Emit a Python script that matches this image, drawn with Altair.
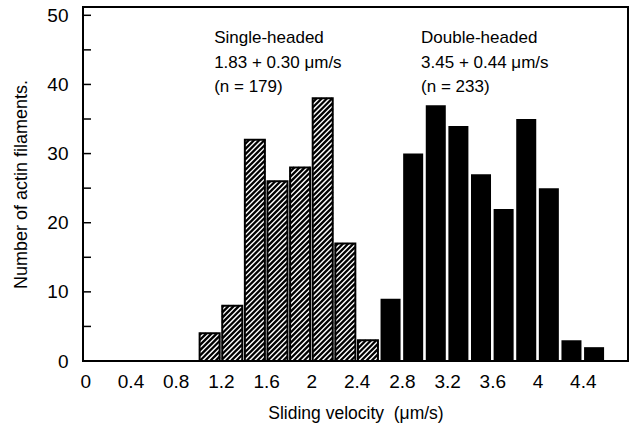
import altair as alt
import pandas as pd
import numpy as np

# ---- data ----
single_bin_start = [1.0, 1.2, 1.4, 1.6, 1.8, 2.0, 2.2, 2.4]
single_counts = [4, 8, 32, 26, 28, 38, 17, 3]
double_bin_start = [2.6, 2.8, 3.0, 3.2, 3.4, 3.6, 3.8, 4.0, 4.2, 4.4]
double_counts = [9, 30, 37, 34, 27, 22, 35, 25, 3, 2]
bin_width = 0.2

x_ticks = [0, 0.4, 0.8, 1.2, 1.6, 2, 2.4, 2.8, 3.2, 3.6, 4, 4.4]
y_ticks = [0, 10, 20, 30, 40, 50]
y_minor = [5, 10, 15, 20, 25, 30, 35, 40, 45, 50]

ann_single = ["Single-headed", "1.83 + 0.30 \u03bcm/s", "(n = 179)"]
ann_double = ["Double-headed", "3.45 + 0.44 \u03bcm/s", "(n = 233)"]

# ---- layout ----
W, H = 545, 354
XMIN, XMAX = -0.02, 4.8
YMIN, YMAX = 0, 51.2
sx = W / (XMAX - XMIN)
sy = H / (YMAX - YMIN)
pad = 1.3 / sx  # bar inset, in data units
FONT = "Liberation Sans"

def bars(starts, counts, group):
    return pd.DataFrame({
        "x0": [s + pad for s in starts],
        "x1": [s + bin_width - pad for s in starts],
        "count": counts,
        "base": [0] * len(counts),
        "group": group,
    })

single_df = bars(single_bin_start, single_counts, "single")
double_df = bars(double_bin_start, double_counts, "double")

# hatch segments (45 degrees in screen space) clipped to each single-headed bar
period = 5.2
segs = []
for _, r in single_df.iterrows():
    a, b, h = r.x0 * sx, r.x1 * sx, r["count"] * sy
    c = np.floor((a - h) / period) * period
    while c <= b:
        y0 = max(0.0, a - c)
        y1 = min(h, b - c)
        if y1 > y0:
            segs.append({"x": (y0 + c) / sx, "y": y0 / sy,
                         "x2": (y1 + c) / sx, "y2": y1 / sy})
        c += period
hatch_df = pd.DataFrame(segs)

ann_df = pd.DataFrame({
    "x": [1.14] * 3 + [2.97] * 3,
    "y": [46.0, 42.4, 38.9] * 2,
    "text": ann_single + ann_double,
})
tick_df = pd.DataFrame({"y": y_minor})

xscale = alt.Scale(domain=[XMIN, XMAX], nice=False, zero=False)
yscale = alt.Scale(domain=[YMIN, YMAX], nice=False)

xaxis = alt.Axis(values=x_ticks, format="~g", grid=False, domain=False,
                 ticks=False, labelPadding=11, labelFontSize=19,
                 labelFont=FONT, labelColor="black",
                 title="Sliding velocity \u00a0(\u03bcm/s)",
                 titleFont=FONT, titleFontSize=17.5, titleFontWeight="normal",
                 titleColor="black", titlePadding=13)
yaxis = alt.Axis(values=y_ticks, grid=False, domain=False, ticks=False,
                 labelPadding=15, labelFontSize=19, labelFont=FONT,
                 labelColor="black", title="Number of actin filaments.",
                 titleFont=FONT, titleFontSize=18, titleFontWeight="normal",
                 titleColor="black", titlePadding=16)

single_bars = alt.Chart(single_df).mark_bar(
    fill="white", stroke="black", strokeWidth=2
).encode(
    x=alt.X("x0:Q", scale=xscale, axis=xaxis),
    x2="x1:Q",
    y=alt.Y("count:Q", scale=yscale, axis=yaxis),
    y2="base:Q",
)

hatch = alt.Chart(hatch_df).mark_rule(color="black", strokeWidth=2.3).encode(
    x=alt.X("x:Q", scale=xscale), x2="x2:Q",
    y=alt.Y("y:Q", scale=yscale), y2="y2:Q",
)

double_bars = alt.Chart(double_df).mark_bar(fill="black", strokeWidth=0).encode(
    x=alt.X("x0:Q", scale=xscale), x2="x1:Q",
    y=alt.Y("count:Q", scale=yscale), y2="base:Q",
)

ticks = alt.Chart(tick_df).mark_rule(color="black", strokeWidth=1.5).encode(
    x=alt.value(0), x2=alt.value(8),
    y=alt.Y("y:Q", scale=yscale),
)

texts = alt.Chart(ann_df).mark_text(
    align="left", baseline="alphabetic", font=FONT, fontSize=17, color="black"
).encode(
    x=alt.X("x:Q", scale=xscale),
    y=alt.Y("y:Q", scale=yscale),
    text="text:N",
)

chart = alt.layer(single_bars, hatch, double_bars, ticks, texts).properties(
    width=W, height=H,
    autosize=alt.AutoSizeParams(type="none"),
    padding={"left": 83, "top": 7, "right": 4, "bottom": 67},
    background="white",
).configure_view(stroke="black", strokeWidth=2)

chart.save("out.html", embed_options={"renderer": "svg", "actions": False})
